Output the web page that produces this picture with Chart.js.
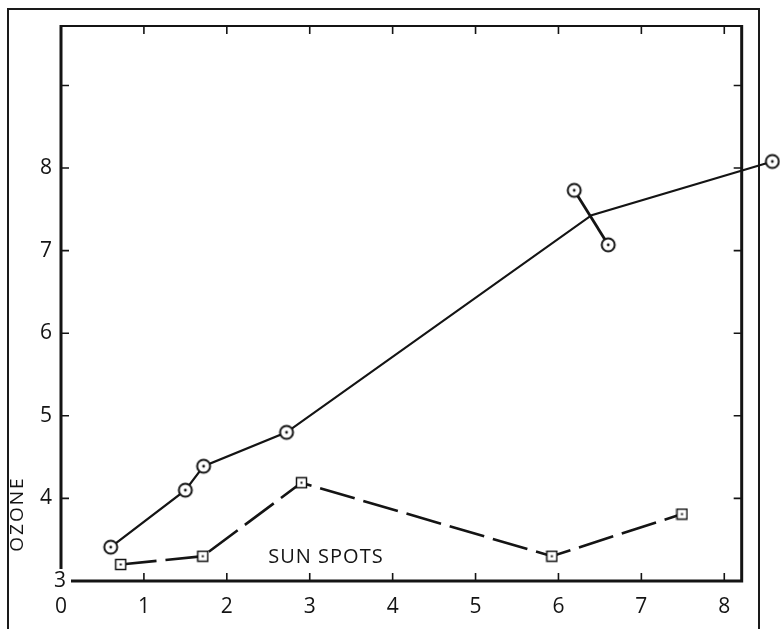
<!DOCTYPE html>
<html>
<head>
<meta charset="utf-8">
<script src="https://cdn.jsdelivr.net/npm/chart.js@4/dist/chart.umd.min.js"></script>
<style>
  html, body { margin: 0; padding: 0; background: #fff; overflow: hidden; }
  #wrap { position: relative; width: 780px; height: 629px; }
  #outer { position: absolute; left: 7px; top: 8px; width: 749px; height: 700px;
           border: 2px solid #1a1a1a; border-bottom: none; }
  canvas { position: absolute; left: 0; top: 0; }
</style>
</head>
<body>
<div id="wrap">
  <div id="outer"></div>
  <canvas id="chart" width="780" height="629"></canvas>
</div>
<script>
// ===== Ozone vs sun spots =====

const ozoneX = [0.6, 1.5, 1.72, 2.72, 6.4, 8.58];
const ozoneY = [3.41, 4.1, 4.39, 4.8, 7.43, 8.08];
// the split pair of readings whose midpoint the main curve passes through
const splitX = [6.19, 6.6];
const splitY = [7.73, 7.07];
const sunX = [0.72, 1.71, 2.9, 5.92, 7.49];
const sunY = [3.2, 3.3, 4.19, 3.3, 3.81];

const xTicks = [0, 1, 2, 3, 4, 5, 6, 7, 8];
const yTicks = [3, 4, 5, 6, 7, 8, 9];
const yLabelled = [4, 5, 6, 7, 8];   // the "3" sits in the corner, drawn below
const frameXMax = 8.21;
const frameYMax = 9.72;

const INK = '#141414';
const FONT = '"Open Sans", "DejaVu Sans", sans-serif';
const TICK_FONT = { family: FONT, size: 21, weight: '400' };

function circleMark() {
  const c = document.createElement('canvas');
  c.width = 18; c.height = 18;
  const g = c.getContext('2d');
  g.fillStyle = '#fff'; g.strokeStyle = INK; g.lineWidth = 2;
  g.beginPath(); g.arc(9, 9, 6.5, 0, Math.PI * 2); g.fill(); g.stroke();
  g.fillStyle = INK;
  g.beginPath(); g.arc(9, 9, 1.4, 0, Math.PI * 2); g.fill();
  return c;
}

function squareMark() {
  const c = document.createElement('canvas');
  c.width = 13; c.height = 13;
  const g = c.getContext('2d');
  g.fillStyle = '#fff'; g.strokeStyle = INK; g.lineWidth = 1.5;
  g.fillRect(1.5, 1.5, 10, 10); g.strokeRect(1.5, 1.5, 10, 10);
  g.fillStyle = INK;
  g.fillRect(5.5, 5.5, 2, 2);
  return c;
}

const circ = circleMark();
const sq = squareMark();

const pts = (xs, ys) => xs.map((x, i) => ({ x, y: ys[i] }));

// frame, inward ticks and loose text
const framePlugin = {
  id: 'frame',
  afterDraw(chart) {
    const ctx = chart.ctx;
    const xs = chart.scales.x, ys = chart.scales.y;
    const L = xs.getPixelForValue(0), R = xs.getPixelForValue(frameXMax);
    const B = ys.getPixelForValue(3), T = ys.getPixelForValue(frameYMax);
    ctx.save();
    ctx.strokeStyle = INK;
    ctx.lineCap = 'butt';
    ctx.lineWidth = 3;
    // the corner is left open for the "3"
    ctx.beginPath(); ctx.moveTo(L, T - 1); ctx.lineTo(L, B - 12); ctx.stroke();
    ctx.beginPath(); ctx.moveTo(L + 10, B); ctx.lineTo(R, B); ctx.lineTo(R, T - 1); ctx.stroke();
    ctx.lineWidth = 2;
    ctx.beginPath(); ctx.moveTo(L, T); ctx.lineTo(R, T); ctx.stroke();

    ctx.lineWidth = 1.6;
    ctx.beginPath();
    xTicks.slice(1).forEach(v => {
      const px = xs.getPixelForValue(v);
      ctx.moveTo(px, B); ctx.lineTo(px, B - 8);
      ctx.moveTo(px, T); ctx.lineTo(px, T + 8);
    });
    yTicks.slice(1).forEach(v => {
      const py = ys.getPixelForValue(v);
      ctx.moveTo(L, py); ctx.lineTo(L + 8, py);
      ctx.moveTo(R, py); ctx.lineTo(R - 8, py);
    });
    ctx.stroke();

    ctx.fillStyle = INK;
    ctx.font = '400 21px ' + FONT;
    ctx.textAlign = 'center';
    ctx.textBaseline = 'middle';
    ctx.fillText(String(yTicks[0]), L - 1, B);

    ctx.font = '400 20px ' + FONT;
    ctx.letterSpacing = '1px';
    ctx.textAlign = 'left';
    ctx.fillText('SUN SPOTS', xs.getPixelForValue(2.5), ys.getPixelForValue(3.29));

    ctx.translate(L - 43, ys.getPixelForValue(3.81));
    ctx.rotate(-Math.PI / 2);
    ctx.textAlign = 'center';
    ctx.font = '400 19px ' + FONT;
    ctx.letterSpacing = '2px';
    ctx.fillText('OZONE', 0, 0);
    ctx.restore();
  }
};

new Chart(document.getElementById('chart'), {
  type: 'scatter',
  data: {
    datasets: [
      {
        label: 'Ozone',
        data: pts(ozoneX, ozoneY),
        showLine: true,
        borderColor: INK,
        borderWidth: 2.2,
        pointStyle: circ,
        pointRadius: ozoneX.map((_, i) => i === 4 ? 0 : 7),
        clip: false,
      },
      {
        label: 'Ozone split',
        data: pts(splitX, splitY),
        showLine: true,
        borderColor: INK,
        borderWidth: 2.8,
        pointStyle: circ,
        pointRadius: 7,
      },
      {
        label: 'Sun spots',
        data: pts(sunX, sunY),
        showLine: true,
        borderColor: INK,
        borderWidth: 2.6,
        borderDash: [36, 9],
        pointStyle: sq,
        pointRadius: 5,
      }
    ]
  },
  options: {
    responsive: false,
    animation: false,
    events: [],
    layout: { autoPadding: false, padding: { left: 0, top: 26, right: 1, bottom: 0 } },
    plugins: { legend: { display: false }, tooltip: { enabled: false } },
    scales: {
      x: {
        type: 'linear',
        min: 0,
        max: 8.66,
        grid: { display: false, drawTicks: false },
        border: { display: false },
        afterFit: s => { s.height = 48; s.paddingLeft = 0; s.paddingRight = 0; },
        afterBuildTicks: s => { s.ticks = xTicks.map(v => ({ value: v })); },
        ticks: {
          color: INK,
          padding: 13,
          maxRotation: 0,
          font: TICK_FONT,
          callback: v => String(v),
        }
      },
      y: {
        type: 'linear',
        min: 3,
        max: frameYMax,
        grid: { display: false, drawTicks: false },
        border: { display: false },
        afterFit: s => { s.width = 61; s.paddingTop = 0; s.paddingBottom = 0; },
        afterBuildTicks: s => { s.ticks = yLabelled.map(v => ({ value: v })); },
        ticks: {
          color: INK,
          padding: 9,
          font: TICK_FONT,
          callback: v => String(v),
        }
      }
    }
  },
  plugins: [framePlugin]
});
</script>
</body>
</html>
